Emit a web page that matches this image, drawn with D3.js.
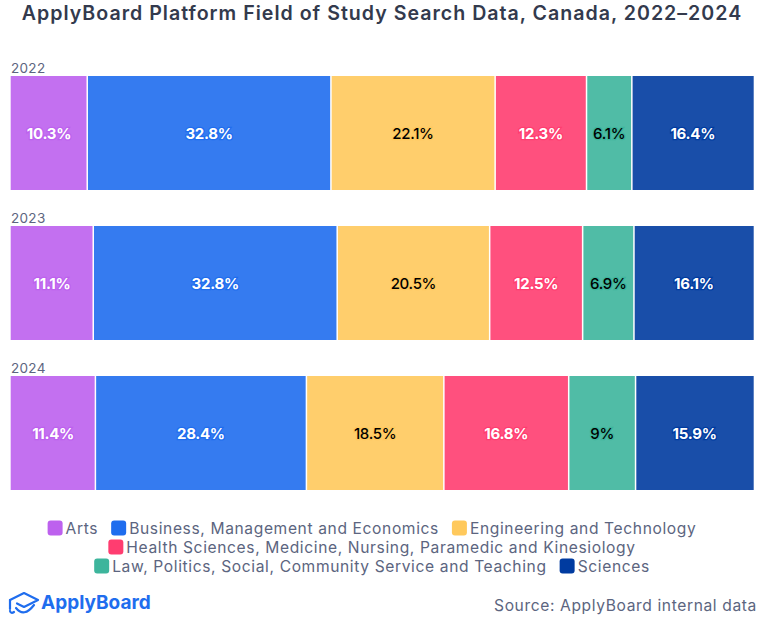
<!DOCTYPE HTML>
<html>
<head>
    <meta charset="utf-8">
    <title>ApplyBoard Platform Field of Study Search Data</title>
    <script src="https://cdn.jsdelivr.net/npm/d3@7/dist/d3.min.js"></script>
    <style>
        html, body { margin: 0; padding: 0; background: #fff; }
        text { font-family: Inter, "Noto Sans", sans-serif; }
    </style>
</head>
<body>
    <div id="chart"></div>
    <script>

        var years = ["2022", "2023", "2024"];
        var fields = [
            "Arts",
            "Business, Management and Economics",
            "Engineering and Technology",
            "Health Sciences, Medicine, Nursing, Paramedic and Kinesiology",
            "Law, Politics, Social, Community Service and Teaching",
            "Sciences"
        ];
        var shares2022 = [10.3, 32.8, 22.1, 12.3, 6.1, 16.4];
        var shares2023 = [11.1, 32.8, 20.5, 12.5, 6.9, 16.1];
        var shares2024 = [11.4, 28.4, 18.5, 16.8, 9, 15.9];
        var colors = ["#bd61ee", "#1f6dee", "#ffc95c", "#ff3d70", "#3db59c", "#003ba0"];
        var labelColors = ["#fff", "#fff", "#000", "#fff", "#000", "#fff"];
        var legendRows = [[0, 1, 2], [3], [4, 5]];

        var shares = [shares2022, shares2023, shares2024];
        var width = 764, height = 620;

        var svg = d3.select("#chart").append("svg")
            .attr("width", width)
            .attr("height", height)
            .style("display", "block");

        svg.append("text")
            .attr("x", 382)
            .attr("y", 20)
            .attr("text-anchor", "middle")
            .attr("fill", "#333a4d")
            .style("font-size", "19.6px")
            .style("font-weight", 600)
            .style("letter-spacing", "1px")
            .text("ApplyBoard Platform Field of Study Search Data, Canada, 2022\u20132024");

        var x = d3.scaleLinear().domain([0, 1]).range([10.7, 753.7]);
        var y = d3.scaleBand().domain(years).range([58, 508]).paddingInner(0.24).paddingOuter(0.12);

        // each year is stacked to its own total, one or two don't add up to 100 exactly
        var rows = svg.selectAll("g.row")
            .data(years)
            .enter()
                .append("g")
                .attr("class", "row");

        rows.append("text")
            .attr("x", 11)
            .attr("y", function(d) { return y(d) - 3; })
            .attr("fill", "#5c6580")
            .style("font-size", "13.5px")
            .style("letter-spacing", "0.3px")
            .text(function(d) { return d; });

        rows.each(function(year, r) {
            var total = d3.sum(shares[r]);
            var running = 0;
            var segments = shares[r].map(function(value, i) {
                var seg = { value: value, i: i, x0: running / total, x1: (running + value) / total };
                running += value;
                return seg;
            });

            var cells = d3.select(this).selectAll("g.cell")
                .data(segments)
                .enter()
                    .append("g")
                    .attr("class", "cell");

            cells.append("rect")
                .attr("x", function(d) { return x(d.x0); })
                .attr("y", y(year))
                .attr("width", function(d) { return x(d.x1) - x(d.x0); })
                .attr("height", y.bandwidth())
                .attr("fill", function(d) { return colors[d.i]; })
                .attr("fill-opacity", 0.9);

            // white gaps between the segments
            cells.filter(function(d) { return d.i > 0; })
                .append("line")
                .attr("x1", function(d) { return x(d.x0); })
                .attr("x2", function(d) { return x(d.x0); })
                .attr("y1", y(year))
                .attr("y2", y(year) + y.bandwidth())
                .attr("stroke", "#fff")
                .attr("stroke-width", 1.5);

            cells.append("text")
                .attr("x", function(d) { return (x(d.x0) + x(d.x1)) / 2; })
                .attr("y", y(year) + y.bandwidth() / 2 + 5.5)
                .attr("text-anchor", "middle")
                .attr("fill", function(d) { return labelColors[d.i]; })
                .attr("stroke", function(d) { return colors[d.i]; })
                .attr("stroke-width", 2.5)
                .attr("paint-order", "stroke")
                .style("font-size", "15px")
                .style("font-weight", function(d) { return labelColors[d.i] === "#000" ? 500 : 700; })
                .style("letter-spacing", "-0.3px")
                .text(function(d) { return d.value + "%"; });
        });

        // legend: centred rows, widths measured from the text
        var legend = svg.append("g").attr("class", "legend");
        var swatch = 15, swatchGap = 3, itemGap = 13, legendCentre = 372;

        legendRows.forEach(function(row, r) {
            var rowY = 528 + r * 19;
            var group = legend.append("g");
            var cursor = 0;
            row.forEach(function(i, n) {
                group.append("rect")
                    .attr("x", cursor)
                    .attr("y", rowY - swatch / 2)
                    .attr("width", swatch)
                    .attr("height", swatch)
                    .attr("rx", 3)
                    .attr("fill", colors[i]);
                var label = group.append("text")
                    .attr("x", cursor + swatch + swatchGap)
                    .attr("y", rowY + 5.5)
                    .attr("fill", "#5c6580")
                    .style("font-size", "15.6px")
                    .style("letter-spacing", "0.62px")
                    .text(fields[i]);
                cursor += swatch + swatchGap + label.node().getComputedTextLength() + itemGap;
            });
            group.attr("transform", "translate(" + (legendCentre - (cursor - itemGap) / 2) + ",0)");
        });

        // logo
        var logo = svg.append("g")
            .attr("transform", "translate(8,592)")
            .attr("fill", "none")
            .attr("stroke", "#1f6dee")
            .attr("stroke-width", 2.2)
            .attr("stroke-linejoin", "round")
            .attr("stroke-linecap", "round");
        logo.append("path").attr("d", "M2 8 L16 1 L30 8 L16 15 L9 11.5");
        logo.append("path").attr("d", "M2 8 L2 17 M2 19 Q3 22 6 20");
        logo.append("path").attr("d", "M8 16 Q16 26 26 13");

        svg.append("text")
            .attr("x", 41)
            .attr("y", 609)
            .attr("fill", "#1f6dee")
            .style("font-size", "19px")
            .style("font-weight", 700)
            .text("ApplyBoard");

        svg.append("text")
            .attr("x", 757)
            .attr("y", 611)
            .attr("text-anchor", "end")
            .attr("fill", "#5c6580")
            .style("font-size", "15.6px")
            .style("letter-spacing", "0.62px")
            .text("Source: ApplyBoard internal data");

    </script>
</body>
</html>
